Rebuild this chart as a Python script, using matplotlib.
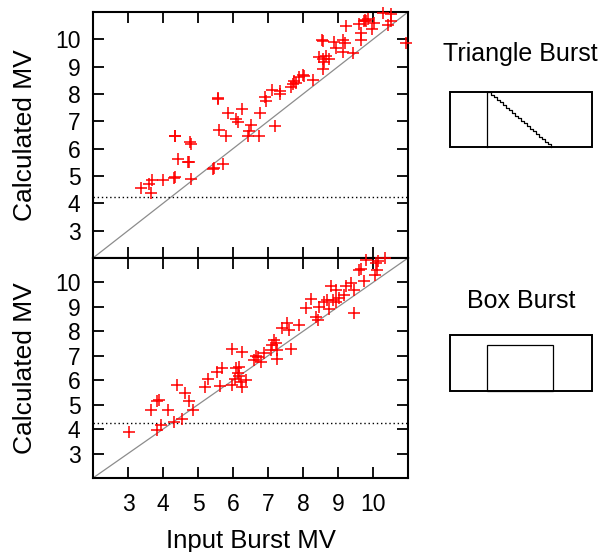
import numpy as np
import matplotlib
matplotlib.use("Agg")
from matplotlib import pyplot as plt
from matplotlib.patches import Rectangle

plt.rcParams['font.family'] = ['Liberation Sans', 'DejaVu Sans']

# triangle burst: input MV vs calculated MV
tri_x = [3.36, 3.60, 3.68, 3.65, 4.00, 4.32, 4.35, 4.81, 4.34, 4.35, 4.77, 4.80,
         4.44, 4.72, 4.75, 5.43, 5.47, 5.72, 5.56, 5.58, 5.87, 5.61, 5.80, 6.08,
         6.13, 6.27, 6.51, 6.47, 6.42, 6.75, 6.77, 6.91, 6.94, 7.12, 7.33, 7.33,
         7.21, 7.71, 7.75, 7.80, 7.90, 7.99, 8.04, 7.66, 8.28, 8.55, 8.57, 8.90,
         9.14, 9.19, 8.93, 8.47, 8.57, 8.66, 8.74, 8.57, 8.61, 9.14, 9.42, 9.23,
         9.61, 9.75, 9.78, 9.80, 9.85, 9.66, 9.66, 9.98, 10.04, 10.28, 10.52, 10.43,
         10.52, 10.95]
tri_y = [4.55, 4.70, 4.86, 4.39, 4.86, 4.92, 4.98, 4.89, 6.45, 6.48, 6.23, 6.18,
         5.62, 5.50, 5.50, 5.25, 5.29, 5.45, 7.81, 7.84, 7.31, 6.70, 6.48, 7.09,
         6.97, 7.44, 6.88, 6.64, 6.45, 6.45, 7.31, 7.90, 7.74, 8.14, 8.11, 7.99,
         6.84, 8.36, 8.48, 8.42, 8.61, 8.69, 8.66, 8.27, 8.51, 9.96, 9.94, 9.90,
         9.96, 9.87, 9.67, 9.34, 9.28, 9.40, 9.28, 8.91, 9.16, 9.55, 9.50, 10.50,
         10.56, 10.68, 10.71, 10.66, 10.76, 10.23, 9.99, 10.39, 10.61, 10.98, 10.91, 10.54,
         10.67, 9.85]

# box burst
box_x = [3.02, 3.83, 3.93, 4.31, 4.55, 3.67, 3.83, 3.88, 4.14, 4.40, 4.62, 4.74,
         4.85, 5.20, 5.29, 5.62, 5.55, 5.69, 5.98, 6.25, 6.08, 6.13, 6.18, 6.06,
         5.98, 6.22, 6.27, 6.36, 6.18, 6.65, 6.70, 6.60, 6.79, 6.89, 7.11, 7.17,
         7.22, 7.08, 7.27, 7.27, 7.65, 7.41, 7.53, 7.60, 7.89, 8.08, 8.22, 8.46,
         8.61, 8.70, 8.85, 8.94, 8.75, 8.37, 8.44, 8.80, 8.94, 9.23, 9.37, 9.47,
         9.18, 9.04, 9.47, 9.75, 9.61, 9.66, 9.80, 10.09, 10.13, 10.07, 10.33, 10.11]
box_y = [3.88, 3.95, 4.15, 4.29, 4.42, 4.77, 5.14, 5.21, 4.79, 5.79, 5.48, 5.14,
         4.77, 5.73, 6.07, 5.75, 6.34, 6.48, 7.27, 7.16, 6.48, 6.30, 6.55, 6.07,
         5.79, 5.93, 5.73, 6.00, 6.16, 6.99, 6.94, 6.82, 6.75, 7.12, 7.44, 7.64,
         7.51, 7.23, 7.23, 6.85, 7.26, 8.12, 8.36, 8.05, 8.26, 8.95, 9.32, 9.01,
         9.22, 9.29, 9.29, 9.22, 8.90, 8.60, 8.47, 9.86, 9.70, 9.86, 9.97, 9.70,
         9.49, 9.36, 8.77, 10.04, 10.52, 10.55, 10.93, 10.79, 10.86, 10.32, 11.00, 10.49]

threshold = 4.25
ticks = [3, 4, 5, 6, 7, 8, 9, 10]

fig = plt.figure(figsize=(6.01, 5.52), dpi=100)
ax1 = fig.add_axes([93 / 601, 1 - 258 / 552, 315 / 601, 246 / 552])
ax2 = fig.add_axes([93 / 601, 1 - 478 / 552, 315 / 601, 220 / 552])

for ax, xs, ys in [(ax1, tri_x, tri_y), (ax2, box_x, box_y)]:
    ax.plot([2, 11], [2, 11], color='#8c8c8c', lw=0.9, zorder=1)
    ax.plot([2, 11], [threshold, threshold], color='black', lw=1.0,
            linestyle=(0, (1, 2)), zorder=1)
    ax.plot(xs, ys, '+', color='red', markersize=9, mew=1.1, clip_on=False, zorder=3)
    ax.set_xlim(2, 11)
    ax.set_ylim(2, 11)
    ax.set_xticks(ticks)
    ax.set_yticks(ticks)
    ax.tick_params(direction='in', length=8, width=1.3, top=True, right=True,
                   labelsize=16.5)
    ax.tick_params(axis='y', pad=9)
    ax.tick_params(axis='x', pad=11)
    for s in ax.spines.values():
        s.set_linewidth(1.5)
    ax.set_ylabel('Calculated MV', fontsize=19, labelpad=13)

ax1.tick_params(labelbottom=False)
ax2.set_xlabel('Input Burst MV', fontsize=18.5, labelpad=9)

# burst shape icons on the right
ic = fig.add_axes([0, 0, 1, 1])
ic.set_xlim(0, 601)
ic.set_ylim(552, 0)
ic.axis('off')
ic.patch.set_alpha(0)

ic.text(520, 61, 'Triangle Burst', ha='center', va='baseline', fontsize=18)
ic.add_patch(Rectangle((450, 92), 142, 55, fill=False, lw=1.4, ec='black'))
ic.plot([487, 487], [92, 147], color='black', lw=0.9)
steps = np.linspace(0, 1, 22)
ic.plot(488 + 63 * steps, 92 + 55 * steps, color='black', lw=0.9, drawstyle='steps-post')

ic.text(521, 308, 'Box Burst', ha='center', va='baseline', fontsize=18)
ic.add_patch(Rectangle((450, 335), 142, 56, fill=False, lw=1.4, ec='black'))
ic.add_patch(Rectangle((487, 345), 66, 46, fill=False, lw=0.9, ec='black'))

fig.savefig('out.png', dpi=100)
